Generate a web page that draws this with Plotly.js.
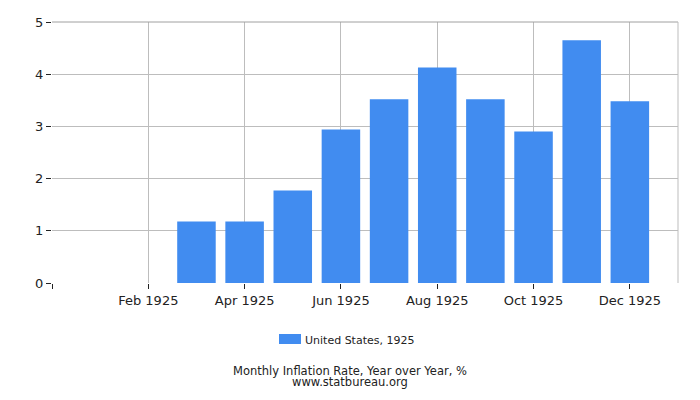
<!DOCTYPE html>
<html>
<head>
<meta charset="utf-8">
<script src="https://cdn.plot.ly/plotly-3.0.1.min.js"></script>
<style>
  html, body { margin: 0; padding: 0; background: #fff; }
  #chart { width: 700px; height: 400px; }
</style>
</head>
<body>
<div id="chart"></div>
<script>
// monthly inflation, year over year, %
var months = ['Jan 1925', 'Feb 1925', 'Mar 1925', 'Apr 1925', 'May 1925', 'Jun 1925',
              'Jul 1925', 'Aug 1925', 'Sep 1925', 'Oct 1925', 'Nov 1925', 'Dec 1925'];
var rates = [null, null, 1.18, 1.18, 1.77, 2.94, 3.52, 4.13, 3.52, 2.90, 4.65, 3.48];
var seriesName = 'United States, 1925';
var yTicks = [0, 1, 2, 3, 4, 5];

var barColor = '#418cf0';
var idx = months.map(function (m, i) { return i; });
// label every other month, plus a bare tick at the left edge
var tickVals = [-1];
var tickText = [''];
for (var i = 1; i < months.length; i += 2) {
    tickVals.push(i);
    tickText.push(months[i]);
}

// plot area is 52..678 px wide, 22..283 px high; helpers turn page pixels into paper units
var W = 700, H = 400, L = 52, R = 22, T = 22, B = 117;
function px(x) { return (x - L) / (W - L - R); }
function py(y) { return (H - B - y) / (H - T - B); }

var trace = {
    type: 'bar',
    x: idx,
    y: rates,
    name: seriesName,
    marker: { color: barColor },
    text: months,
    hoverinfo: 'text+y',
    textposition: 'none'
};

var layout = {
    width: W,
    height: H,
    margin: { l: L, r: R, t: T, b: B },
    paper_bgcolor: '#fff',
    plot_bgcolor: '#fff',
    bargap: 0.2,
    font: { family: 'DejaVu Sans, sans-serif', size: 13, color: '#222' },
    showlegend: false,
    xaxis: {
        range: [-1, 12],
        tickmode: 'array',
        tickvals: tickVals,
        ticktext: tickText,
        ticks: 'outside',
        ticklen: 5,
        tickcolor: '#222',
        showgrid: true,
        gridcolor: '#bdbdbd',
        zeroline: false,
        showline: false,
        tickfont: { size: 13 }
    },
    yaxis: {
        range: [0, 5],
        tickmode: 'array',
        tickvals: yTicks,
        ticks: 'outside',
        ticklen: 5,
        tickcolor: '#222',
        showgrid: true,
        gridcolor: '#bdbdbd',
        zeroline: false,
        showline: false,
        tickfont: { size: 13 }
    },
    shapes: [
        // frame: darker top edge, light right edge
        { type: 'line', xref: 'paper', yref: 'paper', x0: 0, x1: 1, y0: 1, y1: 1,
          line: { color: '#a0a0a0', width: 1 } },
        { type: 'line', xref: 'paper', yref: 'paper', x0: 1, x1: 1, y0: 0, y1: 1,
          line: { color: '#bdbdbd', width: 1 } },
        // legend swatch
        { type: 'rect', xref: 'paper', yref: 'paper',
          x0: px(279), x1: px(301), y0: py(344), y1: py(334),
          fillcolor: barColor, line: { width: 0 } }
    ],
    annotations: [
        { xref: 'paper', yref: 'paper', x: px(303), y: py(340), xanchor: 'left', yanchor: 'middle',
          showarrow: false, text: seriesName,
          font: { size: 11, color: '#222' } },
        { xref: 'paper', yref: 'paper', x: px(350), y: py(371), yanchor: 'middle',
          showarrow: false, text: 'Monthly Inflation Rate, Year over Year, %',
          font: { size: 11.5, color: '#222' } },
        { xref: 'paper', yref: 'paper', x: px(350), y: py(382), yanchor: 'middle',
          showarrow: false, text: 'www.statbureau.org',
          font: { size: 11.5, color: '#222' } }
    ]
};

Plotly.newPlot('chart', [trace], layout, { displayModeBar: false, staticPlot: true });
</script>
</body>
</html>
